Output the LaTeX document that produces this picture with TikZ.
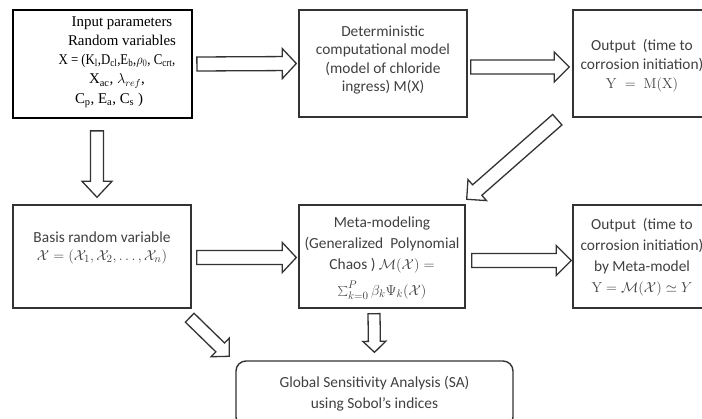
\documentclass[tikz,border=0pt]{standalone}
\usepackage[no-math]{fontspec}
\usepackage{graphicx}
\setmainfont{Carlito}
\newfontfamily\tnr{Liberation Serif}
\usetikzlibrary{calc}
\definecolor{framegray}{HTML}{333333}
\definecolor{textgray}{HTML}{404040}
\tikzset{
  box/.style={draw=framegray, line width=1.4pt, fill=white, inner sep=0pt},
  inbox/.style={draw=black, line width=1.8pt, fill=white, inner sep=0pt},
  txt/.style={text=textgray, align=center, inner sep=0pt, font=\fontsize{15.4}{18.5}\selectfont},
  blockarrow/.style={draw=framegray, line width=1.3pt, fill=white, line join=miter}
}
% #1 shaft half-width, #2 head half-width, #3 head length, #4 start, #5 tip
\newcommand{\blockarr}[5]{%
  \coordinate (bh) at ($(#5)!#3pt!(#4)$);
  \draw[blockarrow] ($(#4)!#1pt!90:(#5)$) -- ($(bh)!#1pt!90:(#5)$) -- ($(bh)!#2pt!90:(#5)$) -- (#5)
     -- ($(bh)!#2pt!-90:(#5)$) -- ($(bh)!#1pt!-90:(#5)$) -- ($(#4)!#1pt!-90:(#5)$) -- cycle;}
\begin{document}
\begin{tikzpicture}[x=1pt,y=-1pt]
\useasboundingbox (0,0) rectangle (702,419);
\clip (0,0) rectangle (702,419);
\fill[white] (0,0) rectangle (702,419);

% boxes
\node[inbox, minimum width=179pt, minimum height=108pt] (b1) at (102.5,64) {};
\node[box, minimum width=168pt, minimum height=107pt] (b2) at (383,63.5) {};
\node[box, minimum width=138pt, minimum height=107pt] (b3) at (642,63.5) {};
\node[box, minimum width=178pt, minimum height=103pt] (b4) at (102,256.5) {};
\node[box, minimum width=166pt, minimum height=103pt] (b5) at (382,256.5) {};
\node[box, minimum width=138pt, minimum height=103pt] (b6) at (642,256.5) {};
\node[box, rounded corners=10pt, minimum width=277pt, minimum height=66pt] (sa) at (374.5,394) {};

% texts
\node[align=center, inner sep=0pt, font=\tnr\fontsize{14.9}{19.3}\selectfont] (t1) at (117,62)
 {\hspace*{10pt}Input parameters\\
  \hspace*{10pt}Random variables\\
  \scalebox{0.86}[1]{X = (K\textsubscript{l},D\textsubscript{cl},E\textsubscript{b},$\rho_0$, C\textsubscript{crt},}\\
  X\textsubscript{ac}, $\lambda_{ref}$,\hspace*{4pt}\\
  C\textsubscript{p}, E\textsubscript{a}, C\textsubscript{s} )\hspace*{16pt}};
\node[txt] (t2) at (383,60)
 {Deterministic\\computational model\\(model of chloride\\ingress) M(X)};
\node[txt] (t3) at (642,66)
 {Output~ (time to\\corrosion initiation)\\[1pt]$\mathrm{Y} \;=\; \mathrm{M(X)}$};
\node[txt] (t4) at (102,248)
 {Basis random variable\\$\mathcal{X} = (\mathcal{X}_1, \mathcal{X}_2, \dots, \mathcal{X}_n)$};
\node[txt, font=\fontsize{15.4}{21}\selectfont] (t5) at (382,258)
 {Meta-modeling\\(Generalized~ Polynomial\\Chaos ) $\mathcal{M}(\mathcal{X}) =$\\[5pt]$\sum_{k=0}^{\raisebox{1.5pt}{$\scriptstyle P$}}\beta_k\Psi_k(\mathcal{X})$};
\node[txt, font=\fontsize{15.4}{21}\selectfont] (t6) at (642,257)
 {Output~ (time to\\corrosion initiation)\\by Meta-model\\$\mathrm{Y} = \mathcal{M}(\mathcal{X}) \simeq Y$};
\node[txt, font=\fontsize{15.4}{21}\selectfont] (t7) at (374.5,393.5)
 {Global Sensitivity Analysis (SA)\\using Sobol's indices};

% arrows
\coordinate (a12s) at ($(b1.east)+(4,0)$);
\coordinate (a12e) at ($(b2.west)+(-2,0)$);
\blockarr{7}{15}{14}{a12s}{a12e}
\coordinate (a23s) at ($(b2.east)+(3,3.5)$);
\coordinate (a23e) at ($(b3.west)+(-3,3.5)$);
\blockarr{7}{15}{15}{a23s}{a23e}
\coordinate (a14s) at ($(b1.south)+(-5.5,12)$);
\coordinate (a14e) at ($(b4.north)+(-5,-7)$);
\blockarr{6.5}{15}{16}{a14s}{a14e}
\coordinate (a35s) at ($(b3.south west)+(-15,2)$);
\coordinate (a35e) at ($(b5.north east)+(1,-5)$);
\blockarr{7}{14}{14}{a35s}{a35e}
\coordinate (a45s) at ($(b4.east)+(5,1)$);
\coordinate (a45e) at ($(b5.west)+(-2,1)$);
\blockarr{7}{15}{14}{a45s}{a45e}
\coordinate (a56s) at ($(b5.east)+(6,4)$);
\coordinate (a56e) at ($(b6.west)+(-1,4)$);
\blockarr{7}{15}{15}{a56s}{a56e}
\coordinate (a5ss) at ($(b5.south)+(-8,5)$);
\coordinate (a5se) at ($(sa.north)+(0,-8)$);
\blockarr{6}{11.5}{11}{a5ss}{a5se}
\coordinate (a4ss) at ($(b4.south east)+(-2,9)$);
\coordinate (a4se) at ($(sa.north west)+(-6,-4)$);
\blockarr{6.2}{13}{12.7}{a4ss}{a4se}
\end{tikzpicture}
\end{document}
